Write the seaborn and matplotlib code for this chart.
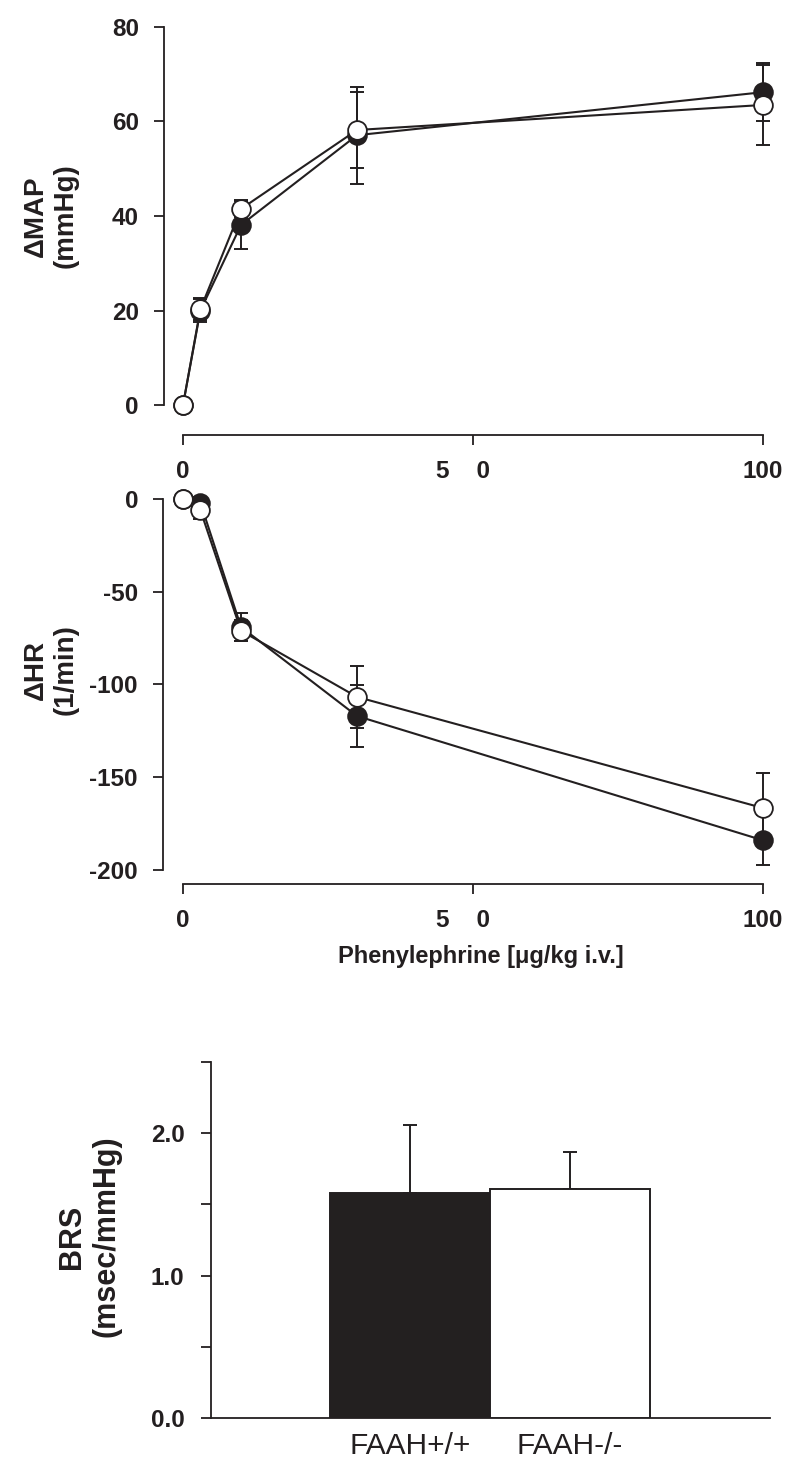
import matplotlib
matplotlib.use("Agg")
import matplotlib.pyplot as plt
import matplotlib.transforms as mtransforms
import numpy as np
import pandas as pd
import seaborn as sns

# phenylephrine doses (ug/kg i.v.)
dose = [0, 3, 10, 30, 100]

# delta MAP (mmHg), mean and SEM
map_wt = [0, 20.0, 38.1, 57.1, 66.2]
map_wt_err = [0, 2.5, 5.0, 10.3, 6.1]
map_ko = [0, 20.3, 41.5, 58.2, 63.5]
map_ko_err = [0, 2.4, 1.8, 8.0, 8.5]

# delta HR (1/min), mean and SEM
hr_wt = [0, -2.0, -69.0, -117.0, -184.0]
hr_wt_err = [0, 3.0, 7.5, 16.7, 13.5]
hr_ko = [0, -6.0, -71.0, -106.7, -166.6]
hr_ko_err = [0, 5.0, 5.5, 16.5, 19.0]

# baroreflex sensitivity
groups = ["FAAH+/+", "FAAH-/-"]
brs = [1.58, 1.61]
brs_err = [0.48, 0.26]

x_ticks = [0, 50, 100]
x_ticklabels = ["0", "5    0", "100"]

DARK = "#231f20"

sns.set_theme(style="ticks")
plt.rcParams["font.family"] = ["Liberation Sans", "DejaVu Sans"]
plt.rcParams["axes.linewidth"] = 1.3
plt.rcParams["xtick.major.width"] = 1.3
plt.rcParams["ytick.major.width"] = 1.3
plt.rcParams["xtick.color"] = DARK
plt.rcParams["ytick.color"] = DARK
plt.rcParams["axes.edgecolor"] = DARK

fig = plt.figure(figsize=(8, 14.66), dpi=100)
ax_map = fig.add_axes([0.22875, 0.7237, 0.725, 0.2579])
ax_hr = fig.add_axes([0.22875, 0.40655, 0.725, 0.25307])
ax_brs = fig.add_axes([0.26375, 0.03274, 0.69875, 0.24284])


def dose_panel(ax, wt, wt_err, ko, ko_err, ylim, yticks, ylabel, left_off, bottom_off, label_y):
    for vals, err, face in [(wt, wt_err, DARK), (ko, ko_err, "white")]:
        ax.errorbar(dose, vals, yerr=err, fmt="none", ecolor=DARK, elinewidth=1.4,
                    capsize=5, capthick=1.4, zorder=2, clip_on=False)
        sns.lineplot(x=dose, y=vals, ax=ax, color=DARK, linewidth=1.5, marker="o",
                     markersize=13.5, markerfacecolor=face, markeredgecolor=DARK,
                     markeredgewidth=1.3, zorder=3, clip_on=False)
    ax.set_xlim(0, 100)
    ax.set_ylim(*ylim)
    ax.set_yticks(yticks)
    ax.set_yticklabels([str(t) for t in yticks])
    ax.set_xticks(x_ticks)
    ax.set_xticklabels(x_ticklabels)
    sns.despine(ax=ax)
    ax.spines["left"].set_position(("outward", left_off))
    ax.spines["bottom"].set_position(("outward", bottom_off))
    ax.tick_params(axis="y", direction="out", length=7, pad=11, labelsize=17.5)
    ax.tick_params(axis="x", direction="out", length=7, pad=11, labelsize=17.5)
    for lab in ax.get_xticklabels() + ax.get_yticklabels():
        lab.set_fontweight("bold")
        lab.set_color(DARK)
    mid = ax.get_xticklabels()[1]
    mid.set_transform(mid.get_transform() + mtransforms.ScaledTranslation(-9.5 / 100, 0, fig.dpi_scale_trans))
    ax.set_ylabel(ylabel, fontsize=20, fontweight="bold", color=DARK, linespacing=1.2)
    ax.yaxis.set_label_coords(-0.18, label_y)
    ax.set_xlabel("")


dose_panel(ax_map, map_wt, map_wt_err, map_ko, map_ko_err, (0, 80), [0, 20, 40, 60, 80],
           "\u0394MAP\n(mmHg)", 13.7, 21.6, 0.5)
dose_panel(ax_hr, hr_wt, hr_wt_err, hr_ko, hr_ko_err, (-200, 0), [0, -50, -100, -150, -200],
           "\u0394HR\n(1/min)", 14.4, 10, 0.54)

fig.text(481 / 800, 1 - 957 / 1466, "Phenylephrine [\u03bcg/kg i.v.]", ha="center", va="center",
         fontsize=17, fontweight="bold", color=DARK)

# BRS bar chart
df = pd.DataFrame({"group": groups, "brs": brs})
sns.barplot(data=df, x="group", y="brs", ax=ax_brs, palette=[DARK, "white"], hue="group",
            legend=False, width=1.0, edgecolor=DARK, linewidth=1.4, zorder=3)
centers = [p.get_x() + p.get_width() / 2 for p in ax_brs.patches]
ax_brs.errorbar(centers, brs, yerr=[np.zeros(len(brs_err)), brs_err], fmt="none",
                ecolor=DARK, elinewidth=1.4, capsize=5, capthick=1.4, zorder=2)
ax_brs.set_xlim(-1.244, 2.25)
ax_brs.set_ylim(0, 2.5)
ax_brs.set_yticks([0, 0.5, 1.0, 1.5, 2.0, 2.5])
ax_brs.set_yticklabels(["0.0", "", "1.0", "", "2.0", ""])
sns.despine(ax=ax_brs)
ax_brs.tick_params(axis="y", direction="out", length=7, pad=12, labelsize=17.5)
ax_brs.tick_params(axis="x", length=0, pad=10, labelsize=21.5)
for lab in ax_brs.get_yticklabels():
    lab.set_fontweight("bold")
    lab.set_color(DARK)
for lab in ax_brs.get_xticklabels():
    lab.set_color(DARK)
ax_brs.set_xlabel("")
ax_brs.set_ylabel("BRS\n(msec/mmHg)", fontsize=22, fontweight="bold", color=DARK, linespacing=1.2)
ax_brs.yaxis.set_label_coords(-0.16, 0.51)

fig.savefig("out.png", dpi=100, facecolor="white")
